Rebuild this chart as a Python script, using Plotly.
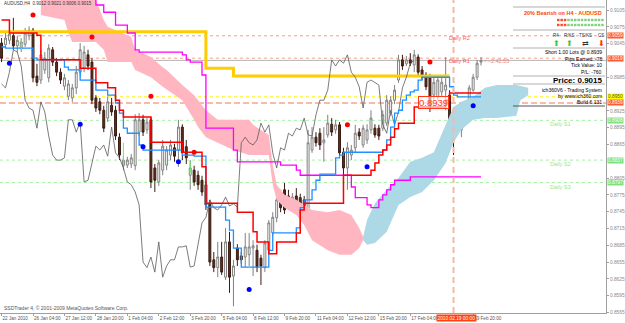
import plotly.graph_objects as go

# ---------------- data (prices) ----------------
tick_bars = [0, 8, 16, 24, 32, 40, 48, 56, 64, 72, 80, 88, 96, 104, 120]
tick_dates = ["22 Jan 2010", "26 Jan 04:00", "27 Jan 12:00", "28 Jan 20:00", "1 Feb 04:00",
              "2 Feb 12:00", "3 Feb 20:00", "5 Feb 04:00", "8 Feb 12:00", "9 Feb 20:00",
              "11 Feb 04:00", "12 Feb 12:00", "15 Feb 20:00", "17 Feb 04:00", "19 Feb 20:00"]
price_ticks = [0.9105, 0.9075, 0.9045, 0.8985, 0.8925, 0.8895, 0.8865, 0.8805, 0.8775,
               0.8745, 0.8715, 0.8685, 0.8655, 0.8625, 0.8595, 0.8565]

opens = [.9046,.9043,.9051,.9059,.9041,.9037,.9044,.9059,.9069,.8987,.8980,.8998,.8984,.9034,.9012,.8994,
         .8969,.8951,.8948,.8966,.8994,.9001,.9025,.9012,.8948,.8941,.8926,.8912,.8935,.8926,.8878,.8827,
         .8828,.8830,.8827,.8887,.8909,.8891,.8909,.8823,.8798,.8819,.8828,.8846,.8859,.8855,.8896,.8861,
         .8810,.8819,.8810,.8801,.8793,.8760,.8659,.8645,.8664,.8628,.8691,.8630,.8680,.8666,.8664,.8668,
         .8680,.8676,.8662,.8645,.8676,.8707,.8734,.8770,.8784,.8773,.8760,.8773,.8770,.8766,.8748,.8855,
         .8878,.8885,.8868,.8882,.8901,.8891,.8900,.8851,.8823,.8846,.8859,.8887,.8864,.8873,.8891,.8894,
         .8894,.8894,.8903,.8921,.8944,.8980,.9016,.9009,.9016,.9007,.9021,.8998,.8989,.8985,.8953,.8950,
         .8959,.8962,.8953,.8918,.8903,.8891,.8912,.8926,.8962,.8985,.9012]
highs = [.9055,.9064,.9069,.9091,.9059,.9055,.9073,.9076,.9073,.9009,.9034,.9030,.9044,.9039,.9019,.9001,
         .8991,.8980,.8973,.9005,.9046,.9041,.9034,.9019,.8953,.8948,.8934,.8951,.8948,.8934,.8885,.8844,
         .8843,.8848,.8919,.8921,.8918,.8912,.8914,.8830,.8837,.8873,.8862,.8873,.8866,.8909,.8901,.8873,
         .8837,.8827,.8818,.8809,.8800,.8766,.8673,.8691,.8691,.8716,.8709,.8659,.8687,.8673,.8707,.8707,
         .8694,.8686,.8668,.8694,.8730,.8744,.8775,.8784,.8796,.8784,.8778,.8787,.8777,.8773,.8891,.8896,
         .8887,.8894,.8896,.8918,.8912,.8909,.8905,.8859,.8869,.8864,.8900,.8894,.8900,.8901,.8926,.8901,
         .8900,.8926,.8953,.8951,.8971,.9025,.9025,.9023,.9028,.9034,.9026,.9005,.8994,.8991,.8985,.8987,
         .8984,.9021,.8962,.8925,.8935,.8909,.8930,.8971,.8991,.9016,.9021]
lows = [.9012,.9037,.9044,.9034,.9030,.9030,.9039,.9051,.8976,.8969,.8973,.8991,.8976,.9005,.8987,.8973,
        .8962,.8944,.8941,.8955,.8987,.8994,.8998,.8937,.8923,.8919,.8887,.8905,.8916,.8873,.8837,.8819,
        .8823,.8823,.8819,.8880,.8880,.8884,.8787,.8780,.8791,.8810,.8819,.8837,.8834,.8825,.8837,.8830,
        .8784,.8791,.8784,.8773,.8748,.8648,.8637,.8628,.8632,.8623,.8600,.8576,.8648,.8652,.8646,.8648,
        .8630,.8637,.8614,.8637,.8669,.8702,.8726,.8744,.8741,.8752,.8753,.8748,.8744,.8748,.8744,.8850,
        .8861,.8855,.8834,.8877,.8880,.8884,.8844,.8784,.8784,.8837,.8851,.8873,.8859,.8866,.8884,.8877,
        .8873,.8889,.8898,.8916,.8937,.8975,.8998,.9005,.9005,.8994,.8989,.8980,.8962,.8923,.8944,.8944,
        .8950,.8926,.8891,.8846,.8896,.8878,.8905,.8923,.8959,.8980,.9006]
closes = [.9019,.9055,.9062,.9041,.9051,.9048,.9064,.9069,.8984,.8976,.9025,.9019,.9037,.9012,.8994,.8980,
          .8984,.8973,.8966,.8994,.9034,.9030,.9005,.8944,.8930,.8926,.8894,.8941,.8923,.8880,.8846,.8837,
          .8837,.8841,.8909,.8909,.8887,.8905,.8798,.8801,.8832,.8862,.8855,.8864,.8844,.8896,.8850,.8841,
          .8823,.8798,.8793,.8780,.8757,.8655,.8645,.8664,.8637,.8691,.8628,.8648,.8659,.8659,.8682,.8682,
          .8684,.8646,.8648,.8689,.8725,.8735,.8766,.8752,.8748,.8757,.8771,.8755,.8759,.8753,.8868,.8878,
          .8868,.8864,.8873,.8903,.8887,.8900,.8850,.8823,.8859,.8855,.8885,.8880,.8894,.8891,.8912,.8882,
          .8880,.8918,.8944,.8944,.8962,.9016,.9005,.9016,.9010,.9025,.8994,.8985,.8968,.8930,.8976,.8980,
          .8976,.8971,.8900,.8885,.8926,.8900,.8923,.8966,.8985,.9010,.9015]
chikou_shift = 17

# step lines (bar index where value changes, value)
kijun_x = [0, 2, 9, 10, 20, 24, 27, 29, 30, 31, 38, 46, 51, 52, 60, 64, 65, 68, 70, 75, 76, 77, 87,
           94, 95, 96, 97, 98, 99, 100, 101, 105, 113, 114, 122]
kijun_y = [.9087, .9064, .9060, .9016, .9001, .8975, .8966, .8944, .8926, .8914, .8869, .8851, .8825,
           .8760, .8744, .8709, .8691, .8670, .8691, .8707, .8748, .8760, .8810, .8819, .8832, .8846,
           .8855, .8864, .8878, .8893, .8903, .8932, .8944, .8957, .8957]
tenkan_x = [0, 1, 8, 9, 16, 17, 20, 24, 27, 29, 30, 31, 32, 35, 36, 46, 49, 52, 57, 58, 59, 61, 68,
            69, 75, 76, 77, 79, 80, 81, 85, 86, 87, 97, 98, 99, 100, 101, 102, 103, 104, 105, 106, 107,
            114, 115, 116, 122]
tenkan_y = [.9039, .9037, .9019, .9016, .9003, .8998, .8980, .8962, .8953, .8939, .8921, .8894, .8885,
            .8864, .8855, .8846, .8844, .8753, .8730, .8712, .8680, .8646, .8676, .8707, .8716, .8752,
            .8766, .8784, .8801, .8812, .8841, .8846, .8851, .8855, .8873, .8896, .8921, .8926, .8944,
            .8953, .8959, .8962, .8980, .8985, .8968, .8953, .8950, .8950]
slow_x = [22, 24, 26, 29, 32, 34, 35, 46, 47, 48, 51, 52, 59, 60, 71, 75, 76, 89, 90, 93, 94, 96, 97,
          98, 99, 100, 104, 122]
slow_y = [.9132, .9114, .9101, .9078, .9064, .9034, .9030, .9025, .9016, .9012, .8989, .8894, .8855,
          .8834, .8828, .8819, .8810, .8789, .8770, .8757, .8752, .8766, .8775, .8784, .8793, .8801,
          .8807, .8807]
band_x = [-1, 52, 59, 114]
band_y = [.9066, .9001, .8987, .8987]

pink_x = [10, 16, 17, 18, 23, 24, 26, 27, 33, 34, 38, 41, 42, 46, 49, 50, 52, 55, 59, 63, 64, 68, 69,
          70, 72, 75, 77, 79, 83, 86, 89, 91, 92]
pink_top = [.9141, .9141, .9141, .9141, .9141, .9123, .9087, .9075, .9057, .9034, .9021, .9003, .8998,
            .8971, .8953, .8944, .8926, .8909, .8909, .8909, .8900, .8882, .8828, .8793, .8775, .8766,
            .8757, .8748, .8744, .8748, .8739, .8716, .8700]
pink_bot = [.9096, .9087, .9064, .9048, .9048, .9048, .9034, .9012, .9012, .8998, .8985, .8968, .8962,
            .8944, .8909, .8896, .8878, .8868, .8855, .8846, .8846, .8846, .8793, .8766, .8752, .8739,
            .8721, .8694, .8676, .8668, .8668, .8680, .8694]
blue_x = [92, 93, 95, 98, 101, 104, 107, 110, 113, 115, 117, 120, 123, 126, 131, 132, 134]
blue_top = [.8700, .8730, .8760, .8784, .8805, .8834, .8841, .8851, .8900, .8932, .8941, .8950, .8966,
            .8971, .8971, .8969, .8966]
blue_bot = [.8694, .8686, .8689, .8709, .8757, .8771, .8780, .8801, .8832, .8868, .8891, .8909, .8912,
            .8912, .8916, .8944, .8953]

red_dot_x = [8, 23, 38, 49, 88, 109]
red_dot_y = [.9096, .9057, .8951, .8851, .8900, .9012]
blue_dot_x = [2, 20, 36, 45, 63, 93, 120]
blue_dot_y = [.9010, .8901, .8861, .8834, .8606, .8825, .8934]
mark_x = [5, 31, 48]
mark_top = [.9055, .8868, .8834]
mark_bot = [.9034, .8828, .8814]

level_r2, level_r1, bid = 0.9059, 0.9019, 0.9015
level_yellow, entry = 0.8950, 0.8939
level_s = [0.8908, 0.8837, 0.8797]
level_s_names = ["Daily S1", "Daily S2", "Daily S3"]
now_bar = 115
now_label = "2010.02.19 00:00"
axis_marks = [(0.9059, "0.9059", "r"), (0.9019, "0.9019", "r"), (0.8950, "0.8950", "y"),
              (0.8939, "0.8939", "r"), (0.8908, "0.8908", "g"), (0.8837, "0.8837", "g"),
              (0.8797, "0.8797", "g")]

# ---------------- figure ----------------
FONT = "Liberation Sans"
W, H = 606.0, 313.0
def px(x): return x / W
def py(y): return 1 - y / H

fig = go.Figure()

# clouds
fig.add_trace(go.Scatter(x=pink_x + pink_x[::-1], y=pink_top + pink_bot[::-1], fill="toself",
                         fillcolor="#FFB6C1", line=dict(width=0), mode="lines", hoverinfo="skip"))
fig.add_trace(go.Scatter(x=blue_x + blue_x[::-1], y=blue_top + blue_bot[::-1], fill="toself",
                         fillcolor="#ADD8E6", line=dict(width=0), mode="lines", hoverinfo="skip"))

# horizontal levels
def hline(y, color, dash, width=1):
    fig.add_shape(type="line", xref="paper", x0=0, x1=1, yref="y", y0=y, y1=y,
                  line=dict(color=color, width=width, dash=dash), layer="below")
hline(level_r2, "#F4A08A", "dot")
hline(level_r1, "#F4A08A", "dot")
hline(bid, "#B8B8B8", "solid")
hline(level_yellow, "#FFF000", "dot")
hline(entry, "#F7A58C", "6px,3px", 1.5)
for s in level_s:
    hline(s, "#A8F0A8", "dot")
fig.add_shape(type="line", xref="x", x0=now_bar, x1=now_bar, yref="paper", y0=0, y1=1,
              line=dict(color="#F7B8A5", width=2, dash="6px,4px"))

# yellow band line
fig.add_trace(go.Scatter(x=band_x, y=band_y, mode="lines", line=dict(color="#FFCC00", width=3, shape="hv"),
                         hoverinfo="skip"))

# chikou (close shifted back)
fig.add_trace(go.Scatter(x=list(range(len(closes) - chikou_shift)), y=closes[chikou_shift:], mode="lines",
                         line=dict(color="#5A5A5A", width=0.8), hoverinfo="skip"))

# candles
fig.add_trace(go.Candlestick(x=list(range(len(opens))), open=opens, high=highs, low=lows, close=closes,
                             increasing=dict(line=dict(color="#808080", width=1), fillcolor="#FFFFFF"),
                             decreasing=dict(line=dict(color="#3A1C12", width=1), fillcolor="#5E2E20"),
                             whiskerwidth=0, hoverinfo="skip"))

# indicator lines
fig.add_trace(go.Scatter(x=slow_x, y=slow_y, mode="lines", line=dict(color="#FF00FF", width=1.3, shape="hv")))
fig.add_trace(go.Scatter(x=tenkan_x, y=tenkan_y, mode="lines", line=dict(color="#1E90FF", width=1.3, shape="hv")))
fig.add_trace(go.Scatter(x=kijun_x, y=kijun_y, mode="lines", line=dict(color="#FF0000", width=1.5, shape="hv")))

# markers
mx, my = [], []
for x, a, b in zip(mark_x, mark_top, mark_bot):
    mx += [x, x, None]
    my += [a, b, None]
fig.add_trace(go.Scatter(x=mx, y=my, mode="lines", line=dict(color="#66EE66", width=1)))
fig.add_trace(go.Scatter(x=red_dot_x, y=red_dot_y, mode="markers", marker=dict(color="#FF0000", size=5)))
fig.add_trace(go.Scatter(x=blue_dot_x, y=blue_dot_y, mode="markers", marker=dict(color="#0000FF", size=5)))

ann = []
def text(x, y, t, color="#000000", size=5, anchor="left", bold=False, **kw):
    ann.append(dict(x=px(x), y=py(y), xref="paper", yref="paper", text=("<b>%s</b>" % t) if bold else t,
                    showarrow=False, xanchor=anchor, yanchor="middle",
                    font=dict(family=FONT, size=size, color=color), **kw))

# top-left title & copyright
text(2, 4, "AUDUSD,H4  0.9012 0.9021 0.9006 0.9015", "#333333", 4.5)
text(2, 308, "SSDTrader 4, © 2001-2009 MetaQuotes Software Corp.", "#555555", 5)

# info panel
for yy in [7, 30, 48, 76, 84]:
    fig.add_shape(type="line", xref="paper", yref="paper", x0=px(513), x1=px(605), y0=py(yy), y1=py(yy),
                  line=dict(color="#B0B0B0", width=1))
fig.add_shape(type="line", xref="paper", yref="paper", x0=px(513), x1=px(605), y0=py(106), y1=py(106),
              line=dict(color="#555555", width=1))
text(604, 13, "20% Bearish on H4 - AUDUSD", "#FF4500", 5.5, "right", True)
for row, yy in enumerate([20, 25]):
    for k in range(14):
        c = "#FF4A2A" if k < 3 else "#7FD27F"
        fig.add_shape(type="rect", xref="paper", yref="paper", x0=px(557 + k * 3.4), x1=px(559.5 + k * 3.4),
                      y0=py(yy + 1.2), y1=py(yy - 1.2), fillcolor=c, line=dict(width=0))
for xx, t in [(556, "R4"), (569, "R/KS"), (585, "TS/KS"), (601, "CS")]:
    text(xx, 35, t, "#333333", 4.5, "center")
for xx, t, c in [(556, "⬆", "#33CC33"), (569, "⬆", "#33CC33"), (585, "⇄", "#333333"), (601, "⬇", "#FF3300")]:
    text(xx, 43, t, c, 7.5, "center")
text(604, 52, "Short 1.00 Lots @ 0.8939", "#000000", 5, "right")
text(604, 58.5, "Pips Earned: -76", "#000000", 5, "right")
text(604, 65, "Tick Value: 10", "#000000", 5, "right")
text(604, 72, "P/L: -760", "#000000", 5, "right")
text(604, 80.5, "Price: 0.9015", "#000000", 8, "right", True)
text(604, 90, "ich360V6 - Trading System", "#000000", 5, "right")
text(604, 96, "by www.ich360.com", "#000000", 5, "right")
text(604, 102, "Build 6.131", "#000000", 5, "right")

# chart labels
text(447, 38, "Daily R2", "#FF5A5A", 5.5)
text(447, 61, "Daily R1", "#FF5A5A", 5.5)
text(482, 61, "<--2:42:55", "#F08080", 5.5)
text(433, 103, "0.8939", "#FF3A1A", 9.5, "center", bordercolor="#FF3A1A", borderwidth=1, borderpad=0,
     bgcolor="rgba(255,255,255,0.6)")
for s_lvl, name in zip(level_s, level_s_names):
    ann.append(dict(x=px(548), y=s_lvl, xref="paper", yref="y", text=name, showarrow=False,
                    xanchor="left", yanchor="middle", yshift=-4,
                    font=dict(family=FONT, size=5.5, color="#90E890")))

# right axis highlighted labels
colors = {"r": ("#FF5A30", "#FFFFFF"), "y": ("#FFFF00", "#555555"), "g": ("#80E080", "#FFFFFF")}
for v, t, k in axis_marks:
    bg, fg = colors[k]
    ann.append(dict(x=1, y=v, xref="paper", yref="y", text=t, showarrow=False, xanchor="left",
                    yanchor="middle", xshift=1, bgcolor=bg, borderpad=0,
                    font=dict(family=FONT, size=4.8, color=fg)))
# highlighted time label
ann.append(dict(x=now_bar, y=0, xref="x", yref="paper", text=now_label, showarrow=False, xanchor="center",
                yanchor="top", yshift=-1, xshift=3, bgcolor="#FF4010", borderpad=0.5,
                font=dict(family=FONT, size=4.8, color="#FFFFFF")))

fig.update_layout(
    width=625, height=323, margin=dict(l=0, r=19, t=0, b=10, autoexpand=False),
    paper_bgcolor="white", plot_bgcolor="white", showlegend=False, annotations=ann,
    xaxis=dict(range=[-0.4, 153.8], showgrid=False, zeroline=False, showline=True, linecolor="#A0A0A0",
               ticks="outside", ticklen=2, tickcolor="#A0A0A0", tickvals=tick_bars, ticktext=tick_dates,
               tickangle=0, automargin=False,
               ticklabelposition="outside right", tickfont=dict(family=FONT, size=4.6, color="#555555"),
               rangeslider=dict(visible=False), fixedrange=True),
    yaxis=dict(range=[0.85640, 0.91229], side="right", showgrid=False, zeroline=False, showline=True,
               linecolor="#A0A0A0", ticks="outside", ticklen=2, tickcolor="#A0A0A0", tickvals=price_ticks,
               automargin=False,
               ticktext=["%.4f" % v for v in price_ticks], tickfont=dict(family=FONT, size=4.8, color="#888888"),
               fixedrange=True),
)

fig.write_html("out.html")
